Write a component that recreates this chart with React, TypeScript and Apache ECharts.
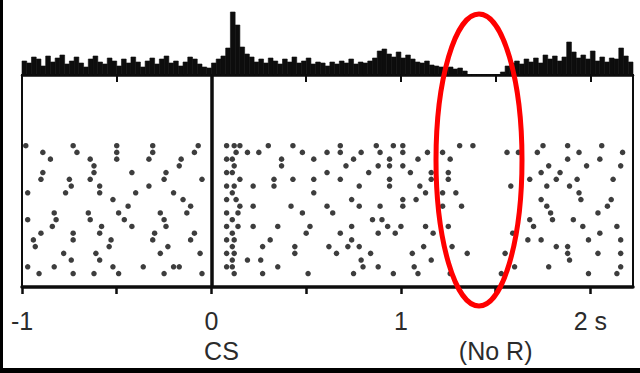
import React, { useEffect, useRef } from "react";
import * as echarts from "echarts";

// Peri-event time histogram (bin start, bin width, counts per bin)
const histBinStart = -1;
const histBinWidth = 0.025;
const histCounts = [
  14, 12, 18, 16, 9, 19, 13, 17, 20, 11, 14, 18, 12, 8, 16, 19, 13, 11, 17, 14,
  9, 16, 12, 18, 13, 8, 14, 17, 11, 16, 19, 12, 14, 9, 13, 18, 16, 11, 8, 7,
  12, 16, 19, 27, 63, 50, 28, 21,
  18, 13, 16, 12, 17, 14, 11, 16, 13, 18, 12, 14, 17, 11, 13,
  12, 9, 13, 11, 14, 12, 16, 11, 13, 12, 14, 17,
  24, 26, 21, 18, 23, 17, 20, 16,
  13, 12, 14, 10, 9,
  8, 7, 8, 6, 7, 4,
  0, 0, 0, 0, 0, 0, 0, 3,
  9, 12, 14, 11, 16, 13, 17, 12, 20, 16, 19, 14, 18, 33, 23, 17, 20, 16, 24, 14,
  18, 13, 17, 16, 27, 19, 13,
];

// Spike times (s) for each trial, top row = trial 1
const trialSpikes: number[][] = [
  [-0.98, -0.73, -0.5, -0.31, -0.07, 0.08, 0.12, 0.15, 0.3, 0.43, 0.68, 0.87, 0.96, 1.01, 1.31, 1.38, 1.75, 1.88, 2.06],
  [-0.89, -0.71, -0.5, -0.31, -0.09, 0.13, 0.19, 0.25, 0.48, 0.61, 0.68, 0.79, 0.89, 1.01, 1.14, 1.22, 1.56, 1.62, 1.72, 1.94, 2.17],
  [-0.85, -0.64, -0.5, -0.33, -0.16, 0.08, 0.11, 0.37, 0.54, 0.75, 0.94, 1.09, 1.26, 1.88, 2.05],
  [-0.62, -0.17, 0.12, 0.37, 0.71, 0.88, 0.94, 1.01, 1.78, 1.98, 2.16],
  [-0.89, -0.62, -0.42, -0.24, 0.08, 0.11, 0.61, 0.83, 1.05, 1.16, 1.25, 1.74, 1.84],
  [-0.9, -0.75, -0.64, -0.25, -0.05, 0.15, 0.33, 0.43, 0.54, 0.68, 0.94, 1.16, 1.25, 1.68, 1.82, 1.93, 2.12],
  [-0.74, -0.59, -0.33, 0.08, 0.12, 0.22, 0.33, 0.78, 0.94, 1.1, 1.58, 1.77, 1.89],
  [-0.97, -0.77, -0.59, -0.4, -0.2, 0.11, 0.54, 1.13, 1.22, 1.29, 1.94],
  [-0.52, -0.15, 0.08, 0.13, 0.74, 1.01, 1.08, 1.74, 1.95, 2.11],
  [-0.44, -0.11, 0.15, 0.22, 0.42, 0.61, 0.78, 0.89, 1.01, 1.22, 1.32, 1.77, 2.09],
  [-0.83, -0.65, -0.49, -0.27, -0.13, 0.08, 0.14, 0.48, 0.64, 1.79, 2.04],
  [-0.97, -0.82, -0.64, -0.46, -0.25, 0.11, 0.85, 0.9, 1.68, 1.8, 1.91],
  [-0.84, -0.58, -0.42, -0.24, 0.08, 0.14, 0.22, 0.35, 0.52, 0.74, 0.93, 1.0, 1.13, 1.25, 1.7, 1.96, 2.14],
  [-0.9, -0.73, -0.59, -0.3, -0.09, 0.11, 0.5, 0.68, 0.88, 0.97, 1.17, 1.59, 2.05],
  [-0.94, -0.73, -0.53, -0.31, -0.11, 0.08, 0.12, 0.31, 0.74, 1.67, 1.74, 1.99, 2.16],
  [-0.93, -0.54, -0.23, 0.11, 0.27, 0.44, 0.62, 0.72, 0.78, 1.12, 1.27, 1.82, 1.88],
  [-0.78, -0.61, -0.27, -0.06, 0.08, 0.12, 0.44, 0.66, 0.84, 1.06, 1.35, 1.55, 1.88, 2.04, 2.16],
  [-0.74, -0.59, 0.11, 0.19, 0.26, 0.79, 1.16, 1.89],
  [-0.97, -0.83, -0.52, -0.36, -0.2, -0.17, 0.08, 0.11, 0.35, 0.8, 0.88, 1.07, 1.6, 1.78, 2.16],
  [-0.91, -0.73, -0.62, -0.49, -0.25, -0.05, 0.12, 0.27, 0.51, 0.75, 0.96, 1.09, 1.26, 1.53, 1.99, 2.14],
];

const tickValues = [-1, -0.5, 0, 0.5, 1, 1.5, 2];
const labelValues = [-1, 0, 1, 2];
const eventTimes = [0, 1.5];
const eventLabels = ["CS", "(No R)"];
const timeMin = -1;
const timeMax = 2.225;

export default function App() {
  const ref = useRef<HTMLDivElement>(null);

  useEffect(() => {
    if (!ref.current) return;
    const chart = echarts.init(ref.current, undefined, { renderer: "svg" });

    const histData = histCounts.map((c, i) => [
      histBinStart + i * histBinWidth,
      histBinStart + (i + 1) * histBinWidth,
      c,
    ]);
    const rasterData: number[][] = [];
    trialSpikes.forEach((times, i) => {
      times.forEach((t) => rasterData.push([t, i + 1]));
    });

    const ink = "#0d0d0d";
    const textColor = "#2b2b2b";
    const font = "'Liberation Sans', Arial, sans-serif";

    chart.setOption({
      animation: false,
      backgroundColor: "#ffffff",
      grid: [
        { left: 22, top: 10, width: 611, height: 65 },
        {
          left: 22,
          top: 75,
          width: 611,
          height: 212,
          show: true,
          borderColor: ink,
          borderWidth: 2,
          backgroundColor: "transparent",
        },
      ],
      xAxis: [
        {
          gridIndex: 0,
          type: "value",
          min: timeMin,
          max: timeMax,
          axisLine: { show: true, onZero: false, lineStyle: { color: ink, width: 2.5 } },
          axisTick: { show: true, customValues: tickValues, length: 7, lineStyle: { color: ink, width: 2 } },
          axisLabel: { show: false },
          splitLine: { show: false },
        },
        {
          gridIndex: 1,
          type: "value",
          position: "bottom",
          min: timeMin,
          max: timeMax,
          axisLine: { show: true, onZero: false, lineStyle: { color: ink, width: 3.5 } },
          axisTick: { show: true, customValues: tickValues, length: 7, lineStyle: { color: ink, width: 2.5 } },
          axisLabel: {
            show: true,
            customValues: labelValues,
            formatter: (v: number) => (v === 2 ? "2 s" : String(v)),
            margin: 21,
            fontSize: 25,
            color: textColor,
            fontFamily: font,
          },
          splitLine: { show: false },
        },
        {
          gridIndex: 1,
          type: "value",
          position: "bottom",
          min: timeMin,
          max: timeMax,
          axisLine: { show: false },
          axisTick: { show: false },
          axisLabel: {
            show: true,
            customValues: eventTimes,
            formatter: (v: number) => {
              const idx = eventTimes.indexOf(v);
              const txt = eventLabels[idx] ?? "";
              return idx === 0 ? "{cs|" + txt + "}" : txt;
            },
            margin: 51,
            fontSize: 25,
            color: textColor,
            fontFamily: font,
            rich: {
              cs: { padding: [0, 0, 0, 20], fontSize: 25, color: textColor, fontFamily: font },
            },
          },
          splitLine: { show: false },
        },
      ],
      yAxis: [
        { gridIndex: 0, type: "value", min: 0, max: 65, show: false, splitLine: { show: false } },
        { gridIndex: 1, type: "value", min: -9.5, max: 22, inverse: true, show: false, splitLine: { show: false } },
      ],
      series: [
        {
          type: "custom",
          xAxisIndex: 0,
          yAxisIndex: 0,
          data: histData,
          encode: { x: [0, 1], y: 2 },
          renderItem: (_params: any, api: any) => {
            const p0 = api.coord([api.value(0), api.value(2)]);
            const p1 = api.coord([api.value(1), 0]);
            return {
              type: "rect",
              shape: { x: p0[0], y: p0[1], width: p1[0] - p0[0], height: p1[1] - p0[1] },
              style: { fill: ink, stroke: ink, lineWidth: 0.6 },
            };
          },
          silent: true,
        },
        {
          type: "scatter",
          xAxisIndex: 1,
          yAxisIndex: 1,
          data: rasterData,
          symbol: "circle",
          symbolSize: 5.5,
          itemStyle: { color: ink },
          silent: true,
          markLine: {
            silent: true,
            symbol: ["none", "none"],
            label: { show: false },
            lineStyle: { color: ink, width: 3.5, type: "solid" },
            data: [{ xAxis: 0 }],
          },
        },
      ],
      graphic: [
        { type: "rect", left: 0, top: 0, shape: { x: 0, y: 0, width: 3, height: 373 }, style: { fill: "#000" }, z: 50 },
        { type: "rect", left: 0, top: 368, shape: { x: 0, y: 0, width: 640, height: 5 }, style: { fill: "#000" }, z: 50 },
        {
          type: "ellipse",
          shape: { cx: 479, cy: 160, rx: 43, ry: 146 },
          style: { fill: "transparent", stroke: "#ff0000", lineWidth: 5 },
          z: 100,
        },
      ],
    });

    return () => chart.dispose();
  }, []);

  return (
    <div
      ref={ref}
      style={{ position: "fixed", left: 0, top: 0, width: 640, height: 373, background: "#fff" }}
    />
  );
}
